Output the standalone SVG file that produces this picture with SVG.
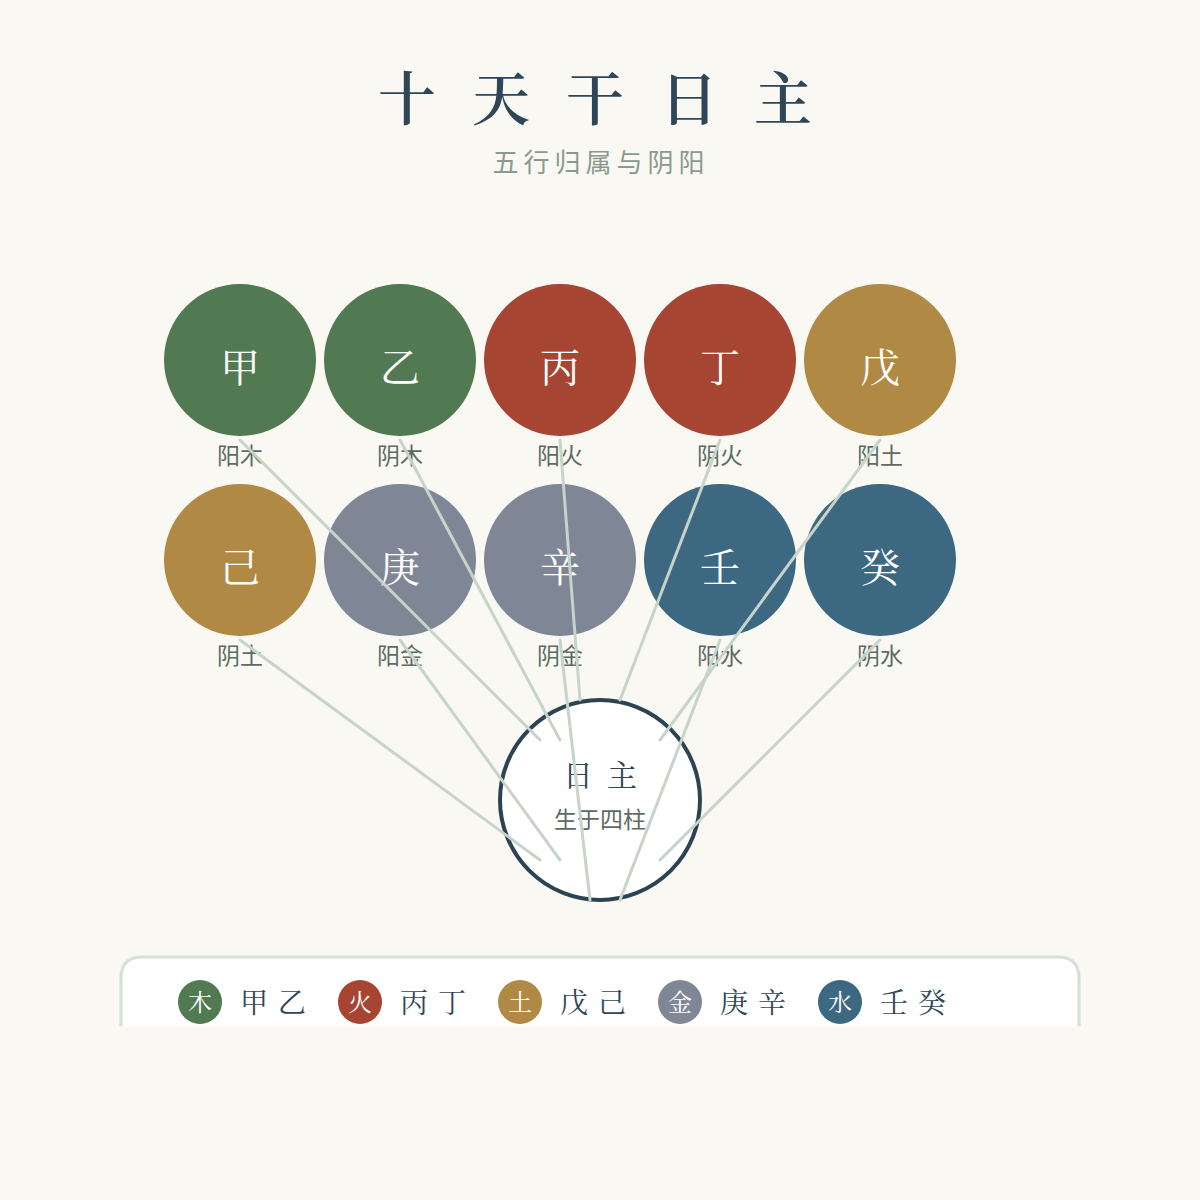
<svg xmlns="http://www.w3.org/2000/svg" width="1200" height="1200" viewBox="0 0 1200 1200">
<style>
.serif{font-family:"Noto Serif CJK SC","Liberation Serif","Noto Sans CJK SC",serif}
.sans{font-family:"Noto Sans CJK SC","Noto Sans",sans-serif}
.stem{fill:#ffffff;font-size:40px;text-anchor:middle}
.lab{fill:#5d6b62;font-size:23px;text-anchor:middle}
.conn{stroke:#c6d4ca;stroke-width:3;fill:none;stroke-linecap:round}
.legt{fill:#2e4657;font-size:28px;letter-spacing:10px}
.legc{fill:#ffffff;font-size:24px;text-anchor:middle}
</style>
<rect width="1200" height="1200" fill="#f9f8f3"/>
<text class="serif" x="613" y="120" font-size="58" font-weight="600" fill="#2e4657" text-anchor="middle" letter-spacing="36">十天干日主</text>
<text class="sans" x="601" y="172" font-size="26" fill="#8b9a90" text-anchor="middle" letter-spacing="5">五行归属与阴阳</text>

<g id="node-jia"><circle cx="240" cy="360" r="76" fill="#527a52"/><text class="serif stem" x="240" y="382">甲</text><text class="sans lab" x="240" y="464">阳木</text></g>
<g id="node-yi"><circle cx="400" cy="360" r="76" fill="#527a52"/><text class="serif stem" x="400" y="382">乙</text><text class="sans lab" x="400" y="464">阴木</text></g>
<g id="node-bing"><circle cx="560" cy="360" r="76" fill="#a54532"/><text class="serif stem" x="560" y="382">丙</text><text class="sans lab" x="560" y="464">阳火</text></g>
<g id="node-ding"><circle cx="720" cy="360" r="76" fill="#a54532"/><text class="serif stem" x="720" y="382">丁</text><text class="sans lab" x="720" y="464">阴火</text></g>
<g id="node-wu"><circle cx="880" cy="360" r="76" fill="#b08a45"/><text class="serif stem" x="880" y="382">戊</text><text class="sans lab" x="880" y="464">阳土</text></g>
<g id="node-ji"><circle cx="240" cy="560" r="76" fill="#b08a45"/><text class="serif stem" x="240" y="582">己</text><text class="sans lab" x="240" y="664">阴土</text></g>
<g id="node-geng"><circle cx="400" cy="560" r="76" fill="#7f8797"/><text class="serif stem" x="400" y="582">庚</text><text class="sans lab" x="400" y="664">阳金</text></g>
<g id="node-xin"><circle cx="560" cy="560" r="76" fill="#7f8797"/><text class="serif stem" x="560" y="582">辛</text><text class="sans lab" x="560" y="664">阴金</text></g>
<g id="node-ren"><circle cx="720" cy="560" r="76" fill="#3d6882"/><text class="serif stem" x="720" y="582">壬</text><text class="sans lab" x="720" y="664">阳水</text></g>
<g id="node-gui"><circle cx="880" cy="560" r="76" fill="#3d6882"/><text class="serif stem" x="880" y="582">癸</text><text class="sans lab" x="880" y="664">阴水</text></g>

<g id="node-rizhu"><circle cx="600" cy="800" r="100" fill="#ffffff" stroke="#2c4353" stroke-width="4"/><text class="serif" x="607" y="786" font-size="30" fill="#2e4657" text-anchor="middle" letter-spacing="14">日主</text><text class="sans" x="600" y="828" font-size="23" fill="#5d6b62" text-anchor="middle">生于四柱</text></g>

<g id="connectors">
<line class="conn" x1="240" y1="440" x2="540" y2="740"/>
<line class="conn" x1="400" y1="440" x2="560" y2="740"/>
<line class="conn" x1="560" y1="440" x2="580" y2="700"/>
<line class="conn" x1="720" y1="440" x2="620" y2="700"/>
<line class="conn" x1="880" y1="440" x2="660" y2="740"/>
<line class="conn" x1="240" y1="640" x2="540" y2="860"/>
<line class="conn" x1="400" y1="640" x2="560" y2="860"/>
<line class="conn" x1="560" y1="640" x2="590" y2="900"/>
<line class="conn" x1="720" y1="640" x2="620" y2="900"/>
<line class="conn" x1="880" y1="640" x2="660" y2="860"/>
</g>

<g id="legend">
<path d="M121,1026 V978 Q121,957 142,957 H1058 Q1079,957 1079,978 V1026 Z" fill="#ffffff"/>
<path d="M121,1026 V978 Q121,957 142,957 H1058 Q1079,957 1079,978 V1026" fill="none" stroke="#d6e0d9" stroke-width="3"/>
<circle cx="200" cy="1002" r="22" fill="#527a52"/><text class="serif legc" x="200" y="1011">木</text><text class="serif legt" x="240" y="1013">甲乙</text>
<circle cx="360" cy="1002" r="22" fill="#a54532"/><text class="serif legc" x="360" y="1011">火</text><text class="serif legt" x="400" y="1013">丙丁</text>
<circle cx="520" cy="1002" r="22" fill="#b08a45"/><text class="serif legc" x="520" y="1011">土</text><text class="serif legt" x="560" y="1013">戊己</text>
<circle cx="680" cy="1002" r="22" fill="#7f8797"/><text class="serif legc" x="680" y="1011">金</text><text class="serif legt" x="720" y="1013">庚辛</text>
<circle cx="840" cy="1002" r="22" fill="#3d6882"/><text class="serif legc" x="840" y="1011">水</text><text class="serif legt" x="880" y="1013">壬癸</text>
</g>
</svg>
